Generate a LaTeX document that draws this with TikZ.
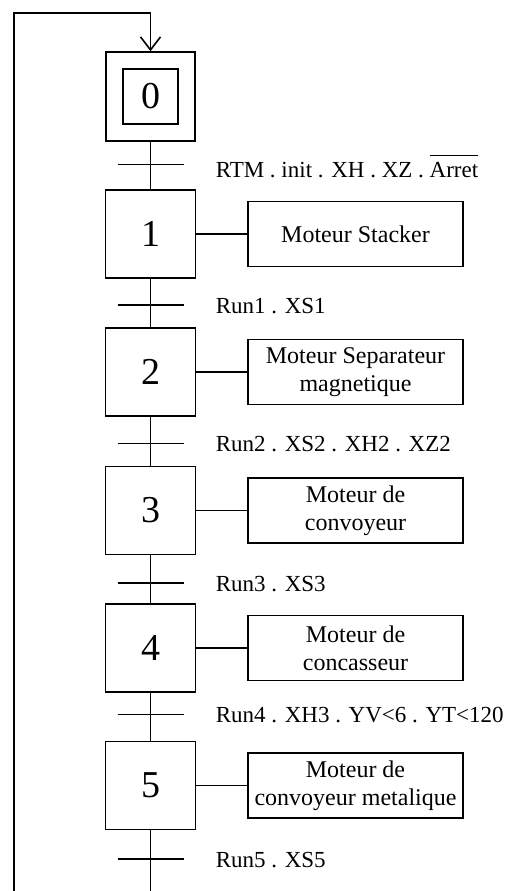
\documentclass[tikz,border=0pt]{standalone}
\usepackage{fontspec}
\setmainfont{Liberation Serif}
\usetikzlibrary{arrows.meta}
\newcommand\ovbar[1]{\leavevmode\vbox{\hrule height 1.3pt\kern 6pt\hbox{#1}}}
\begin{document}
\begin{tikzpicture}[x=1pt,y=-1pt,line width=1.6pt,
  stepbox/.style={draw,minimum width=90pt,minimum height=88pt,inner sep=0pt,font=\fontsize{38}{40}\selectfont},
  initin/.style={draw,minimum width=55pt,minimum height=55pt,inner sep=0pt,font=\fontsize{38}{40}\selectfont},
  actbox/.style={draw,minimum width=215pt,minimum height=65pt,align=center,inner sep=0pt,font=\fontsize{24}{28}\selectfont},
  tr/.style={minimum width=66pt,minimum height=0pt,inner sep=0pt,outer sep=0pt},
  lbl/.style={anchor=base west,inner sep=0pt,font=\fontsize{23}{27}\selectfont},
  loopar/.style={-{Straight Barb[length=13pt,width=20pt,line width=1.6pt]}}]
\useasboundingbox (0,0) rectangle (513,891);
% steps
\node[stepbox,minimum width=89pt,minimum height=89pt] (s0) at (150.5,96.5) {};
\node[initin] (s0i) at (s0.center) {0};
\node[stepbox] (s1) at (150.5,234) {1};
\node[stepbox] (s2) at (150.5,372) {2};
\node[stepbox] (s3) at (150.5,510.5) {3};
\node[stepbox] (s4) at (150.5,648) {4};
\node[stepbox] (s5) at (150.5,785.3) {5};
% actions
\node[actbox] (a1) at (355.5,234) {Moteur Stacker};
\node[actbox] (a2) at (355.5,372) {Moteur Separateur\\magnetique};
\node[actbox] (a3) at (355.5,510.5) {Moteur de\\convoyeur};
\node[actbox] (a4) at (355.5,648) {Moteur de\\concasseur};
\node[actbox] (a5) at (355.5,785.3) {Moteur de\\convoyeur metalique};
% transitions
\node[tr] (t1) at (150.5,164.5) {};
\node[tr] (t2) at (150.5,305) {};
\node[tr] (t3) at (150.5,443.3) {};
\node[tr] (t4) at (150.5,583) {};
\node[tr] (t5) at (150.5,714.3) {};
\node[tr] (t6) at (150.5,859) {};
% transition labels
\node[lbl] (l1) at (215,177) {RTM . init . XH . XZ . \ovbar{Arret}};
\node[lbl] (l2) at (215,313) {Run1 . XS1};
\node[lbl] (l3) at (215,451) {Run2 . XS2 . XH2 . XZ2};
\node[lbl] (l4) at (215,591) {Run3 . XS3};
\node[lbl] (l5) at (215,722.5) {Run4 . XH3 . YV<6 . YT<120};
\node[lbl] (l6) at (215,867) {Run5 . XS5};
% links
\coordinate (bot) at (150.5,891);
\coordinate (lb) at (14,891);
\coordinate (lt) at (14,13);
\draw (s0.south) -- (s1.north);
\draw (s1.south) -- (s2.north);
\draw (s2.south) -- (s3.north);
\draw (s3.south) -- (s4.north);
\draw (s4.south) -- (s5.north);
\draw (s5.south) -- (bot);
\foreach \t in {t1,t2,t3,t4,t5,t6} {\draw (\t.west) -- (\t.east);}
\foreach \i in {1,...,5} {\draw (s\i.east) -- (a\i.west);}
\draw[loopar] (lb) -- (lt) -| (s0.north);
\end{tikzpicture}
\end{document}
